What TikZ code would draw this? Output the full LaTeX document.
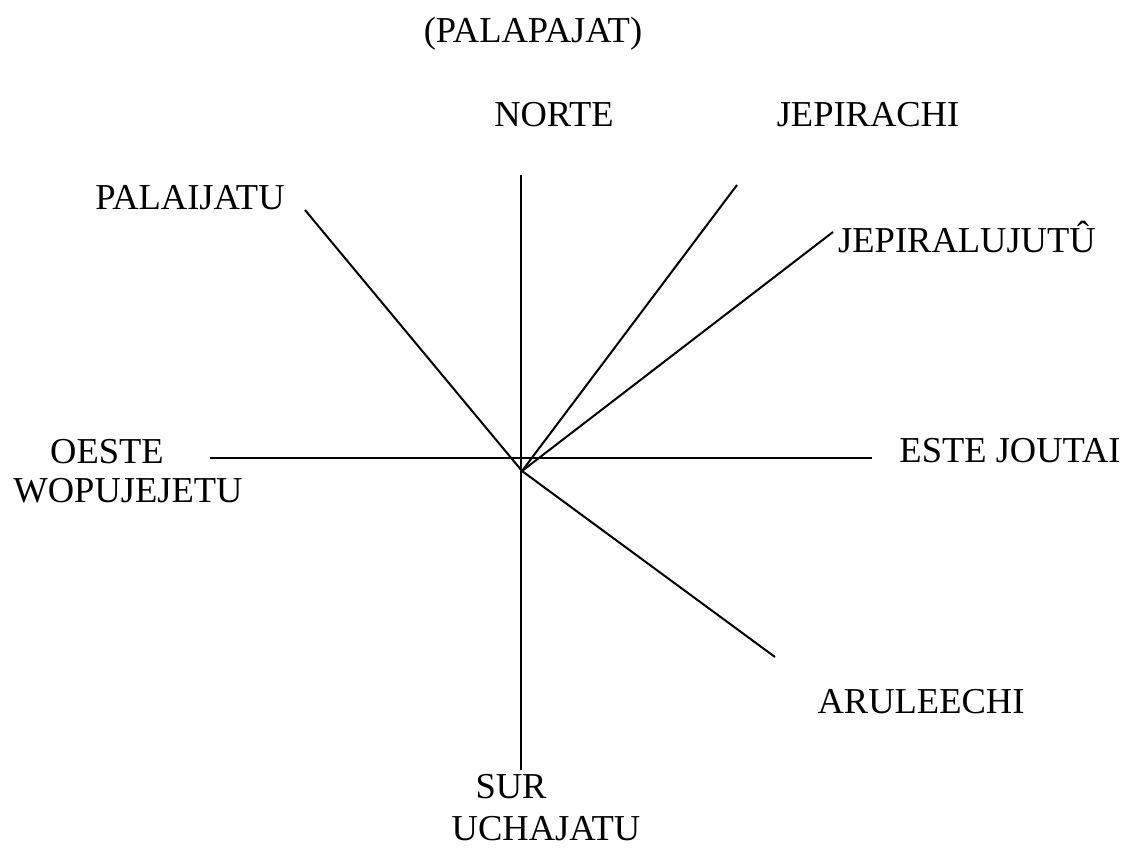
\documentclass[tikz,border=0pt]{standalone}
\usepackage{fontspec}
\setmainfont{Liberation Serif}
\begin{document}
\begin{tikzpicture}[x=1pt,y=-1pt,
  lbl/.style={anchor=base,inner sep=0pt,font=\fontsize{36.5}{42}\selectfont},
  ray/.style={line width=2pt,black}]
\useasboundingbox (0,0) rectangle (1127,848);
% labels
\node[lbl] (palapajat) at (533,43) {(PALAPAJAT)};
\node[lbl] (norte) at (554,127) {NORTE};
\node[lbl] (jepirachi) at (868,127) {JEPIRACHI};
\node[lbl] (palaijatu) at (190,209) {PALAIJATU};
\node[lbl] (jepiralujutu) at (967,252) {JEPIRALUJUTÛ};
\node[lbl] (oeste) at (107,463) {OESTE};
\node[lbl] (wopujejetu) at (128,502) {WOPUJEJETU};
\node[lbl] (este) at (1010,462) {ESTE JOUTAI};
\node[lbl] (aruleechi) at (921,713) {ARULEECHI};
\node[lbl] (sur) at (511,798) {SUR};
\node[lbl] (uchajatu) at (546,840) {UCHAJATU};
% coordinates
\coordinate (c) at (522,471);
\coordinate (ntop) at (521,175);
\coordinate (sbot) at (521,770);
\coordinate (wend) at (210,458);
\coordinate (eend) at (872,458);
\coordinate (hmid) at (521,458);
\coordinate (hshort) at (570,458);
\coordinate (nw) at (305,210);
\coordinate (nne) at (737,185);
\coordinate (ne) at (833,232);
\coordinate (se) at (775,657);
% lines
\draw[ray] (ntop) -- (sbot);
\draw[ray] (wend) -- (eend);
\draw[line width=2.6pt] (hmid) -- (hshort);
\draw[ray] (nw) -- (c);
\draw[ray] (nne) -- (c);
\draw[ray] (ne) -- (c);
\draw[ray] (c) -- (se);
\end{tikzpicture}
\end{document}
